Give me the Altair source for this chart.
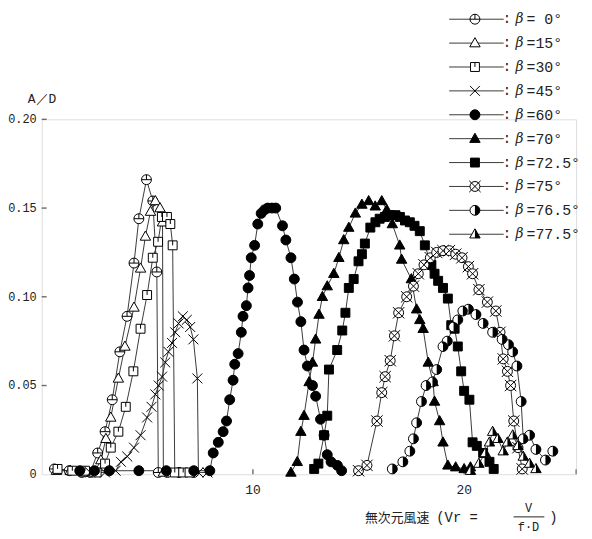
import altair as alt
import pandas as pd

# ---------------- data ----------------
betas = ["0", "15", "30", "45", "60", "70", "72.5", "75", "76.5", "77.5"]
legend_values = ["= 0°", "=15°", "=30°", "=45°", "=60°", "=70°", "=72.5°", "=75°", "=76.5°", "=77.5°"]

b0_x = [0.6, 1.3, 1.9, 2.3, 2.65, 3.0, 3.34, 3.7, 4.04, 4.37, 4.6, 4.96, 5.26, 5.45, 5.52, 5.95, 6.5, 7.2]
b0_y = [0.003, 0.002, 0.001, 0.001, 0.012, 0.024, 0.042, 0.069, 0.089, 0.119, 0.144, 0.166, 0.154, 0.114, 0.001, 0.001, 0.001, 0.001]

b15_x = [0.7, 1.35, 2.0, 2.5, 2.8, 3.04, 3.27, 3.63, 3.94, 4.37, 4.68, 4.91, 5.15, 5.38, 5.6, 5.72, 5.76, 6.55]
b15_y = [0.002, 0.002, 0.001, 0.001, 0.008, 0.020, 0.032, 0.054, 0.072, 0.094, 0.116, 0.134, 0.148, 0.154, 0.150, 0.142, 0.001, 0.001]

b30_x = [0.75, 1.45, 2.05, 2.6, 3.0, 3.27, 3.63, 3.98, 4.34, 4.68, 4.99, 5.26, 5.51, 5.69, 5.93, 6.09, 6.2, 6.3, 6.7, 7.0]
b30_y = [0.003, 0.002, 0.002, 0.001, 0.006, 0.015, 0.024, 0.038, 0.058, 0.082, 0.101, 0.122, 0.131, 0.145, 0.145, 0.141, 0.129, 0.001, 0.001, 0.001]

b45_x = [2.3, 3.0, 3.5, 3.75, 4.05, 4.37, 4.68, 4.99, 5.2, 5.38, 5.54, 5.70, 5.85, 6.0, 6.17, 6.32, 6.48, 6.68, 6.87, 7.03, 7.18, 7.37, 7.42, 7.85]
b45_y = [0.001, 0.001, 0.002, 0.007, 0.010, 0.015, 0.022, 0.032, 0.038, 0.045, 0.050, 0.055, 0.063, 0.069, 0.074, 0.080, 0.085, 0.089, 0.087, 0.083, 0.076, 0.054, 0.001, 0.001]

b60_x = [1.8, 2.5, 3.2, 4.6, 5.9, 7.2, 7.96, 8.12, 8.36, 8.59, 8.75, 8.9, 9.06, 9.14, 9.3, 9.45, 9.53, 9.69, 9.77, 9.84, 9.92,
         10.08, 10.23, 10.39, 10.55, 10.7, 10.9, 11.08, 11.4, 11.56, 11.8, 11.96, 12.11, 12.27, 12.42, 12.58, 12.82, 12.97,
         13.2, 13.37, 13.52, 13.7, 14.0, 14.2]
b60_y = [0.002, 0.002, 0.002, 0.002, 0.002, 0.002, 0.002, 0.012, 0.018, 0.024, 0.030, 0.042, 0.053, 0.062, 0.068, 0.080, 0.089,
         0.095, 0.105, 0.112, 0.122, 0.129, 0.141, 0.147, 0.149, 0.150, 0.150, 0.150, 0.140, 0.132, 0.122, 0.110, 0.097, 0.086,
         0.070, 0.061, 0.050, 0.044, 0.031, 0.022, 0.011, 0.007, 0.005, 0.002]

b70_x = [11.8, 12.1, 12.27, 12.42, 12.66, 12.82, 12.97, 13.13, 13.29, 13.52, 13.83, 14.07, 14.3, 14.54, 14.85, 15.16, 15.48,
         15.79, 16.1, 16.34, 16.6, 16.95, 17.04, 17.5, 17.75, 17.9, 18.06, 18.3, 18.53, 18.6, 18.84, 19.0, 19.23, 19.6, 20.0, 20.3]
b70_y = [0.001, 0.007, 0.024, 0.033, 0.052, 0.063, 0.076, 0.090, 0.100, 0.106, 0.113, 0.122, 0.132, 0.139, 0.147, 0.152, 0.154,
         0.151, 0.154, 0.149, 0.141, 0.129, 0.121, 0.110, 0.093, 0.087, 0.082, 0.063, 0.052, 0.041, 0.030, 0.018, 0.005, 0.004, 0.003, 0.004]

b725_x = [12.9, 13.1, 13.37, 13.52, 13.6, 13.99, 14.23, 14.38, 14.54, 14.77, 15.0, 15.16, 15.3, 15.56, 15.8, 16.0, 16.25, 16.5,
          16.75, 16.96, 17.2, 17.43, 17.65, 17.9, 18.14, 18.45, 18.6, 18.77, 19.0, 19.23, 19.39, 19.55, 19.7, 19.86, 20.0, 20.25,
          20.4, 20.6, 20.9, 21.2, 21.4]
b725_y = [0.003, 0.006, 0.022, 0.033, 0.059, 0.070, 0.081, 0.091, 0.105, 0.110, 0.120, 0.124, 0.130, 0.139, 0.142, 0.144, 0.145,
          0.146, 0.146, 0.145, 0.143, 0.142, 0.140, 0.137, 0.129, 0.118, 0.113, 0.109, 0.105, 0.099, 0.084, 0.082, 0.072, 0.058,
          0.047, 0.042, 0.018, 0.016, 0.012, 0.007, 0.003]

b75_x = [15.0, 15.4, 15.87, 16.1, 16.26, 16.5, 16.7, 16.9, 17.28, 17.6, 17.83, 18.1, 18.4, 18.7, 19.0, 19.3, 19.6, 19.9, 20.2,
         20.4, 20.7, 21.1, 21.5, 21.7, 21.85, 22.05, 22.2, 22.35, 22.55, 22.75]
b75_y = [0.002, 0.005, 0.030, 0.046, 0.055, 0.064, 0.078, 0.091, 0.100, 0.106, 0.113, 0.118, 0.122, 0.125, 0.126, 0.126, 0.124,
         0.122, 0.117, 0.113, 0.104, 0.097, 0.092, 0.080, 0.065, 0.058, 0.050, 0.030, 0.015, 0.003]

b765_x = [16.6, 17.1, 17.43, 17.6, 17.75, 17.98, 18.2, 18.5, 18.7, 19.0, 19.2, 19.5, 19.7, 19.94, 20.2, 20.56, 20.9, 21.35, 21.8,
          22.1, 22.3, 22.5, 22.7, 22.8, 23.1, 23.4, 23.85, 24.2]
b765_y = [0.003, 0.007, 0.013, 0.020, 0.029, 0.041, 0.050, 0.052, 0.059, 0.072, 0.075, 0.083, 0.087, 0.092, 0.093, 0.090, 0.085,
          0.080, 0.076, 0.073, 0.069, 0.061, 0.041, 0.020, 0.022, 0.014, 0.008, 0.013]

b775_x = [20.3, 20.7, 21.0, 21.2, 21.35, 21.6, 21.85, 22.05, 22.3, 22.55, 22.8, 23.1, 23.4]
b775_y = [0.002, 0.006, 0.012, 0.018, 0.024, 0.020, 0.013, 0.018, 0.022, 0.016, 0.010, 0.006, 0.003]

y_tick_values = [0.05, 0.10, 0.15, 0.20]
y_label_values = [0, 0.05, 0.10, 0.15, 0.20]
y_label_texts = ["0", "0.05", "0.10", "0.15", "0.20"]
x_tick_values = [10, 20]
x_label_texts = ["10", "20"]

series = [(b0_x, b0_y), (b15_x, b15_y), (b30_x, b30_y), (b45_x, b45_y), (b60_x, b60_y),
          (b70_x, b70_y), (b725_x, b725_y), (b75_x, b75_y), (b765_x, b765_y), (b775_x, b775_y)]

rows = []
for b, (xs_, ys_) in zip(betas, series):
    for xv, yv in zip(xs_, ys_):
        rows.append({"beta": b, "x": xv, "y": yv})
df = pd.DataFrame(rows)

# ---------------- marker shapes ----------------
CIRC = "M1,0A1,1 0 1,1 -1,0A1,1 0 1,1 1,0Z"
TRI = "M0,-1.1L1.05,0.75L-1.05,0.75Z"
SQ = "M-0.9,-0.9H0.9V0.9H-0.9Z"
shapes = [
    CIRC + "M0,-1L0,0M-1,0L1,0",                   # 0
    TRI,                                           # 15
    SQ + "M0,-0.9L0,0",                            # 30
    "M-1,-1L1,1M-1,1L1,-1",                        # 45
    CIRC,                                          # 60
    TRI,                                           # 70
    SQ,                                            # 72.5
    CIRC + "M-1.15,-1.15L1.15,1.15M-1.15,1.15L1.15,-1.15",  # 75
    CIRC,                                          # 76.5
    TRI,                                           # 77.5
]
fills = ["white", "white", "white", "white", "black", "black", "black", "white", "white", "white"]
half_defs = [("76.5", "M0,-1A1,1 0 0,1 0,1Z"), ("77.5", "M0,-1.1L1.05,0.75L0,0.75Z")]

shape_scale = alt.Scale(domain=betas, range=shapes)
fill_scale = alt.Scale(domain=betas, range=fills)

W, H = 539, 358
xs = alt.Scale(domain=[0, 25.3], nice=False, zero=False)
ys = alt.Scale(domain=[0, 0.2], nice=False)

MONO = "Liberation Mono"
AXC = "#6a6a6a"
TXT = "#222"

base = alt.Chart(df)

lines = base.mark_line(color="#3a3a3a", strokeWidth=1).encode(
    x=alt.X("x:Q", scale=xs, axis=alt.Axis(labels=False, ticks=False, title=None, grid=False,
                                            domainColor=AXC, domainWidth=1.6)),
    y=alt.Y("y:Q", scale=ys, axis=alt.Axis(labels=False, ticks=False, title=None, grid=False,
                                            domainColor=AXC, domainWidth=1.6)),
    detail="beta:N",
    order=alt.Order("x:Q"),
)

points = base.mark_point(size=100, stroke="black", strokeWidth=1, opacity=1, fillOpacity=1).encode(
    x=alt.X("x:Q", scale=xs),
    y=alt.Y("y:Q", scale=ys),
    shape=alt.Shape("beta:N", scale=shape_scale, legend=None),
    fill=alt.Fill("beta:N", scale=fill_scale, legend=None),
)

halves = [
    base.transform_filter(alt.datum.beta == b).mark_point(
        shape=p, size=100, fill="black", strokeWidth=0, opacity=1, fillOpacity=1
    ).encode(x=alt.X("x:Q", scale=xs), y=alt.Y("y:Q", scale=ys))
    for b, p in half_defs
]

# inward ticks and tick labels
ytick_df = pd.DataFrame({"v": y_tick_values})
xtick_df = pd.DataFrame({"v": x_tick_values, "t": x_label_texts})
ylab_df = pd.DataFrame({"v": y_label_values, "t": y_label_texts})
yticks = alt.Chart(ytick_df).mark_rule(color=AXC, strokeWidth=1.4).encode(
    y=alt.Y("v:Q", scale=ys, axis=None), x=alt.value(0), x2=alt.value(5))
xticks = alt.Chart(xtick_df).mark_rule(color=AXC, strokeWidth=1.4).encode(
    x=alt.X("v:Q", scale=xs, axis=None), y=alt.value(H), y2=alt.value(H - 5))
endtick = alt.Chart(pd.DataFrame({"v": [25.3]})).mark_rule(color=AXC, strokeWidth=1.2).encode(
    x=alt.X("v:Q", scale=xs, axis=None), y=alt.value(H), y2=alt.value(H - 5))
ylabels = alt.Chart(ylab_df).mark_text(align="right", baseline="middle", font=MONO, fontSize=12, color=TXT).encode(
    y=alt.Y("v:Q", scale=ys, axis=None), x=alt.value(-5), text="t:N")
xlabels = alt.Chart(xtick_df).mark_text(align="center", baseline="middle", font=MONO, fontSize=13, color=TXT).encode(
    x=alt.X("v:Q", scale=xs, axis=None), y=alt.value(H + 16), text="t:N")

# ---------------- legend (drawn beside the plot) ----------------
LEG_TOP, LEG_STEP = -101, 24.1
leg = pd.DataFrame({
    "beta": betas,
    "val": legend_values,
    "ly": [LEG_TOP + LEG_STEP * i for i in range(len(betas))],
})
lb = alt.Chart(leg)
leg_lines = lb.mark_rule(color="#3a3a3a", strokeWidth=1).encode(
    y=alt.Y("ly:Q", scale=None, axis=None), x=alt.value(411), x2=alt.value(466))
leg_pts = lb.mark_point(size=100, stroke="black", strokeWidth=1, opacity=1, fillOpacity=1).encode(
    y=alt.Y("ly:Q", scale=None, axis=None), x=alt.value(437),
    shape=alt.Shape("beta:N", scale=shape_scale, legend=None),
    fill=alt.Fill("beta:N", scale=fill_scale, legend=None))
leg_half = [
    lb.transform_filter(alt.datum.beta == b).mark_point(
        shape=p, size=100, fill="black", strokeWidth=0, opacity=1, fillOpacity=1
    ).encode(y=alt.Y("ly:Q", scale=None, axis=None), x=alt.value(437))
    for b, p in half_defs
]
leg_colon = lb.mark_text(align="left", baseline="middle", font=MONO, fontSize=14, color=TXT).encode(
    y=alt.Y("ly:Q", scale=None, axis=None), x=alt.value(465), text=alt.value(":"))
leg_beta = lb.mark_text(align="left", baseline="middle", font="DejaVu Serif", fontStyle="italic", fontSize=14,
                        color=TXT).encode(
    y=alt.Y("ly:Q", scale=None, axis=None), x=alt.value(478), text=alt.value("β"))
leg_val = lb.mark_text(align="left", baseline="middle", font=MONO, fontSize=15, color=TXT).encode(
    y=alt.Y("ly:Q", scale=None, axis=None), x=alt.value(489), text="val:N")

# ---------------- titles ----------------
def txt(t, x, y, font=MONO, size=13, align="left"):
    return alt.Chart(pd.DataFrame({"t": [t]})).mark_text(
        align=align, baseline="middle", font=font, fontSize=size, color=TXT).encode(
        x=alt.value(x), y=alt.value(y), text="t:N")

ytitle = txt("A／D", -14, -20, size=13)
xt1 = txt("無次元風速", 326, 402, font="Noto Sans CJK JP", size=13)
xt2 = txt("(Vr =", 398, 402, size=14)
xt4 = txt("V", 491, 392, size=12, align="center")
xt5 = txt("f·D", 491, 411, size=12, align="center")
xt6 = txt(")", 512, 402, size=14)
frac = alt.Chart(pd.DataFrame({"a": [0]})).mark_rule(color=TXT, strokeWidth=1).encode(
    x=alt.value(476), x2=alt.value(507), y=alt.value(401))

chart = alt.layer(
    lines, yticks, xticks, endtick, ylabels, xlabels, points, *halves,
    leg_lines, leg_pts, *leg_half, leg_colon, leg_beta, leg_val,
    ytitle, xt1, xt2, xt4, xt5, xt6, frac,
).properties(
    width=W, height=H,
    autosize=alt.AutoSizeParams(type="none"),
    padding={"left": 34, "top": 110, "right": 8, "bottom": 63},
).configure_view(stroke=None).configure(background="white")

chart.save("out.html", embed_options={"renderer": "svg", "actions": False})
